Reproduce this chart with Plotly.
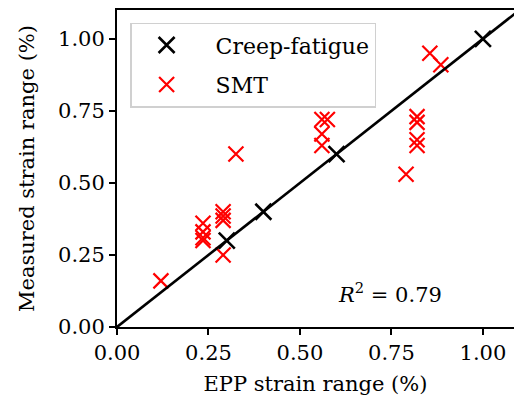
import plotly.graph_objects as go

# Data
cf_x = [0.30, 0.40, 0.60, 1.00]
cf_y = [0.30, 0.40, 0.60, 1.00]

smt_x = [0.12, 0.235, 0.235, 0.235, 0.235, 0.29, 0.29, 0.29, 0.29, 0.325,
         0.56, 0.575, 0.56, 0.56, 0.79, 0.82, 0.82, 0.82, 0.82, 0.855, 0.885]
smt_y = [0.16, 0.36, 0.33, 0.31, 0.30, 0.40, 0.385, 0.37, 0.25, 0.60,
         0.72, 0.72, 0.67, 0.63, 0.53, 0.73, 0.71, 0.65, 0.63, 0.95, 0.91]

line_x = [0.0, 1.1]
line_y = [0.0, 1.1]

tick_vals = [0.0, 0.25, 0.5, 0.75, 1.0]
tick_text = ["0.00", "0.25", "0.50", "0.75", "1.00"]

FONT = "'DejaVu Serif', serif"
FS = 21
PAD = "\u00a0\u00a0"

fig = go.Figure()
fig.add_trace(go.Scatter(
    x=smt_x, y=smt_y, mode="markers", name=PAD + "SMT", legendrank=2,
    legendgroup="smt",
    marker=dict(symbol="x-thin", size=15, color="red",
                line=dict(color="red", width=2.2)),
))
fig.add_trace(go.Scatter(
    x=line_x, y=line_y, mode="lines", showlegend=False,
    line=dict(color="black", width=2.6),
))
fig.add_trace(go.Scatter(
    x=cf_x, y=cf_y, mode="markers", name=PAD + "Creep-fatigue", legendrank=1,
    legendgroup="cf",
    marker=dict(symbol="x-thin", size=16, color="black",
                line=dict(color="black", width=2.6)),
))

fig.add_annotation(
    x=0.745, y=0.118, xref="x", yref="y", showarrow=False,
    text="<i>R</i><sup>2</sup> = 0.79",
    font=dict(family=FONT, size=FS, color="black"),
)

axis_common = dict(
    showgrid=False, zeroline=False, showline=True, linecolor="black",
    linewidth=2, ticks="outside", ticklen=6, tickwidth=1.5, tickcolor="black",
    tickvals=tick_vals, ticktext=tick_text,
    tickfont=dict(family=FONT, size=FS, color="black"),
)

fig.update_layout(
    width=514, height=404,
    margin=dict(l=117, r=0, t=10, b=77),
    paper_bgcolor="white", plot_bgcolor="white",
    font=dict(family=FONT, size=FS, color="black"),
    xaxis=dict(range=[0, 1.085], mirror=True,
               title=dict(text="EPP strain range (%)", standoff=12,
                          font=dict(family=FONT, size=FS, color="black")),
               **axis_common),
    yaxis=dict(range=[0, 1.1],
               title=dict(text="Measured strain range (%)", standoff=18,
                          font=dict(family=FONT, size=FS, color="black")),
               **axis_common),
    legend=dict(x=0.033, y=0.96, xanchor="left", yanchor="top",
                bgcolor="white", bordercolor="#d0d0d0", borderwidth=1.5,
                font=dict(family=FONT, size=22, color="black"),
                itemwidth=60, tracegroupgap=8),
    showlegend=True,
)

fig.write_html("out.html")
